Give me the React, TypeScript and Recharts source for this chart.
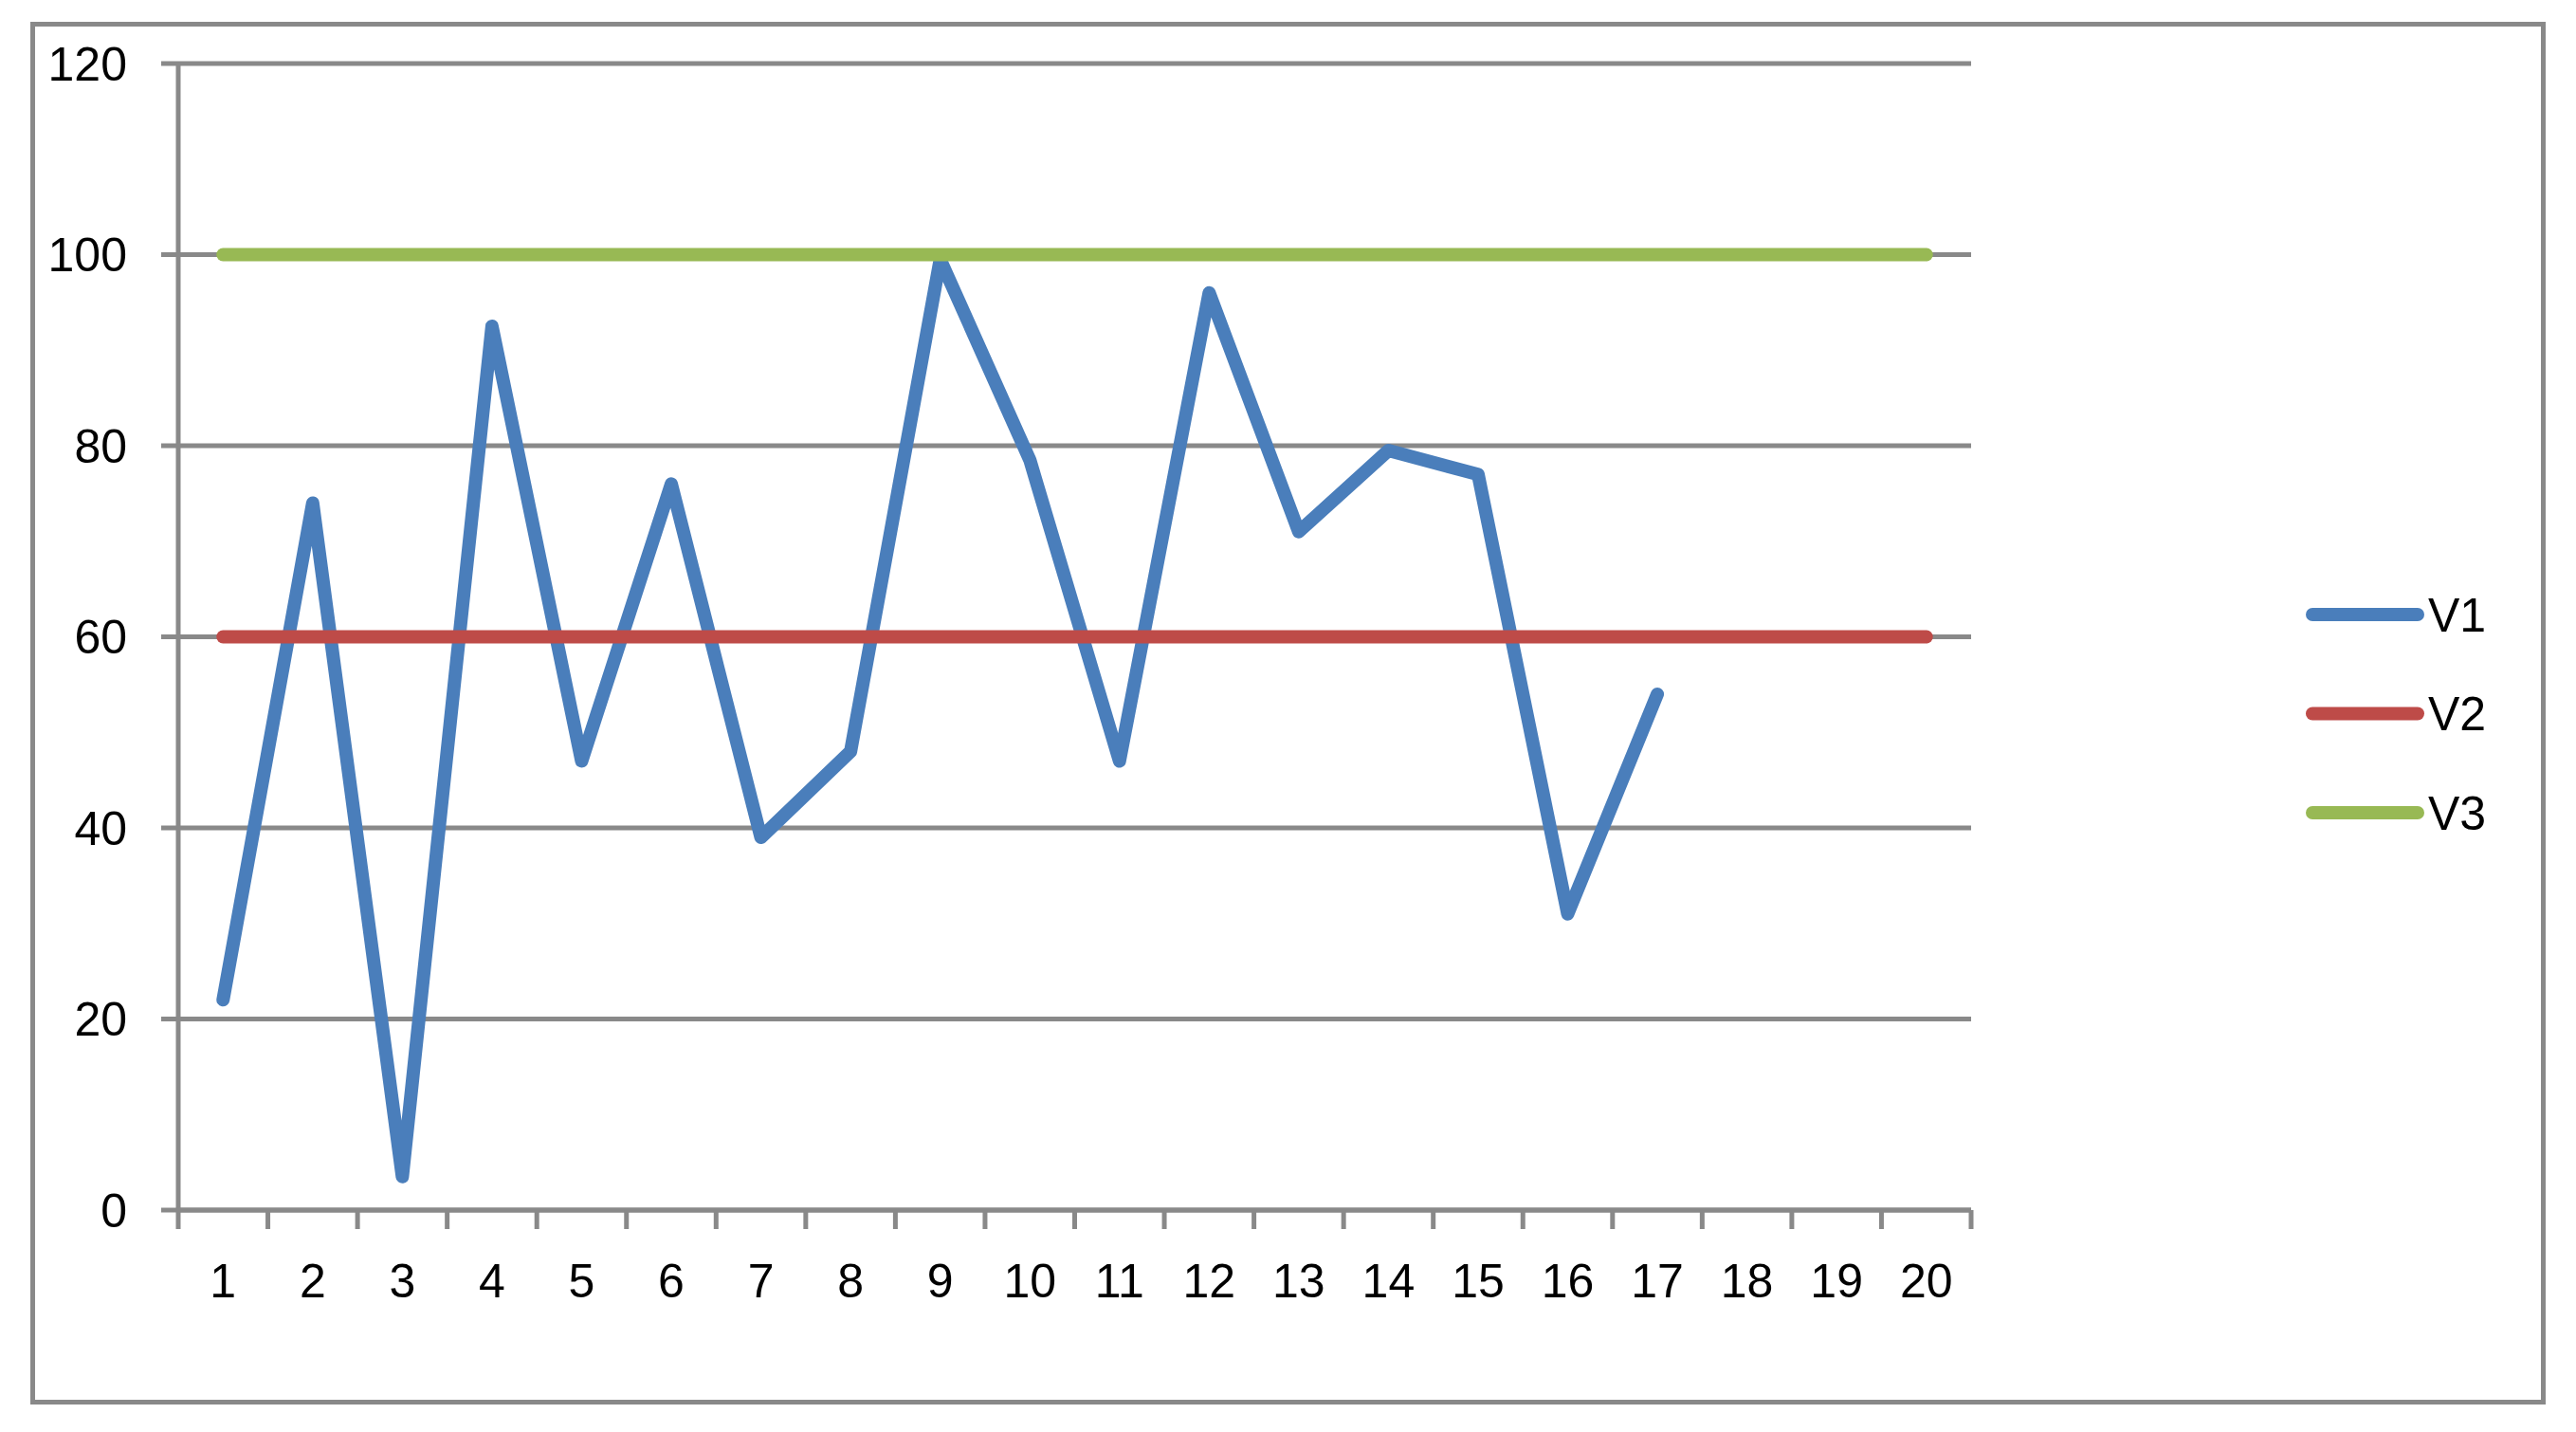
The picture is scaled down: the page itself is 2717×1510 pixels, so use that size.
import { CartesianGrid, Legend, Line, LineChart, XAxis, YAxis } from "recharts"

const categories = [1, 2, 3, 4, 5, 6, 7, 8, 9, 10, 11, 12, 13, 14, 15, 16, 17, 18, 19, 20]
const v1 = [22, 74, 3.5, 92.5, 47, 76, 39, 48, 99.5, 78.5, 47, 96, 71, 79.5, 77, 31, 54, null, null, null]
const v2 = [60, 60, 60, 60, 60, 60, 60, 60, 60, 60, 60, 60, 60, 60, 60, 60, 60, 60, 60, 60]
const v3 = [100, 100, 100, 100, 100, 100, 100, 100, 100, 100, 100, 100, 100, 100, 100, 100, 100, 100, 100, 100]
const yTicks = [0, 20, 40, 60, 80, 100, 120]

const data = categories.map((c, i) => ({ x: c, V1: v1[i], V2: v2[i], V3: v3[i] }))
// tick marks sit between categories, labels at category centres
const xTicks = categories.flatMap((c) => [c - 0.5, c]).concat(categories[categories.length - 1] + 0.5)

const GRAY = "#898989"
const FONT = "'Liberation Sans', Arial, sans-serif"
const AXIS_W = 5
const X_TICK_SIZE = 20
const X_TICK_MARGIN = 36
const LEGEND_W = 200

const XTick = (props: any) => {
  const { x, y, payload } = props
  const axisY = y - X_TICK_SIZE - X_TICK_MARGIN
  if (!Number.isInteger(payload.value)) {
    return <line x1={x} x2={x} y1={axisY} y2={axisY + X_TICK_SIZE} stroke={GRAY} strokeWidth={AXIS_W} />
  }
  return (
    <text x={x} y={y} dy="0.71em" textAnchor="middle" fill="#000" fontSize={50} fontFamily={FONT}>
      {payload.value}
    </text>
  )
}

const renderLegend = (props: any) => (
  <svg width={LEGEND_W} height={300}>
    {(props.payload || []).map((item: any, i: number) => (
      <g key={item.value} transform={`translate(0, ${48 + i * 104.5})`}>
        <line x1={14} x2={125} y1={0} y2={0} stroke={item.color} strokeWidth={14} strokeLinecap="round" />
        <text x={136} y={0} dy="0.355em" fill="#000" fontSize={50} fontFamily={FONT}>
          {item.value}
        </text>
      </g>
    ))}
  </svg>
)

export default function App() {
  return (
    <div style={{ position: "absolute", left: 0, top: 0, width: 2717, height: 1510, background: "#fff" }}>
      <div
        style={{
          position: "absolute",
          left: 32,
          top: 23,
          width: 2653,
          height: 1458,
          boxSizing: "border-box",
          border: `5px solid ${GRAY}`,
        }}
      />
      <div style={{ position: "absolute", left: 0, top: 0 }}>
        <LineChart width={2717} height={1510} data={data} margin={{ top: 67, right: 638 - LEGEND_W, bottom: 134, left: 0 }}>
          <CartesianGrid vertical={false} stroke={GRAY} strokeWidth={AXIS_W} />
          <XAxis
            dataKey="x"
            type="number"
            domain={[0.5, 20.5]}
            ticks={xTicks}
            interval={0}
            height={100}
            tick={<XTick />}
            tickLine={false}
            tickSize={X_TICK_SIZE}
            tickMargin={X_TICK_MARGIN}
            axisLine={{ stroke: GRAY, strokeWidth: AXIS_W }}
          />
          <YAxis
            type="number"
            domain={[0, 120]}
            ticks={yTicks}
            interval={0}
            width={188}
            tickSize={18}
            tickMargin={36}
            tick={{ fill: "#000", fontSize: 50, fontFamily: FONT }}
            tickLine={{ stroke: GRAY, strokeWidth: AXIS_W }}
            axisLine={{ stroke: GRAY, strokeWidth: AXIS_W }}
          />
          <Legend
            layout="vertical"
            align="right"
            verticalAlign="middle"
            width={LEGEND_W}
            wrapperStyle={{ left: 2425, top: 600 }}
            content={renderLegend}
          />
          <Line dataKey="V1" name="V1" stroke="#4A7EBB" strokeWidth={14} strokeLinecap="round" strokeLinejoin="round" dot={false} isAnimationActive={false} />
          <Line dataKey="V2" name="V2" stroke="#BE4B48" strokeWidth={14} strokeLinecap="round" strokeLinejoin="round" dot={false} isAnimationActive={false} />
          <Line dataKey="V3" name="V3" stroke="#98B954" strokeWidth={14} strokeLinecap="round" strokeLinejoin="round" dot={false} isAnimationActive={false} />
        </LineChart>
      </div>
    </div>
  )
}
